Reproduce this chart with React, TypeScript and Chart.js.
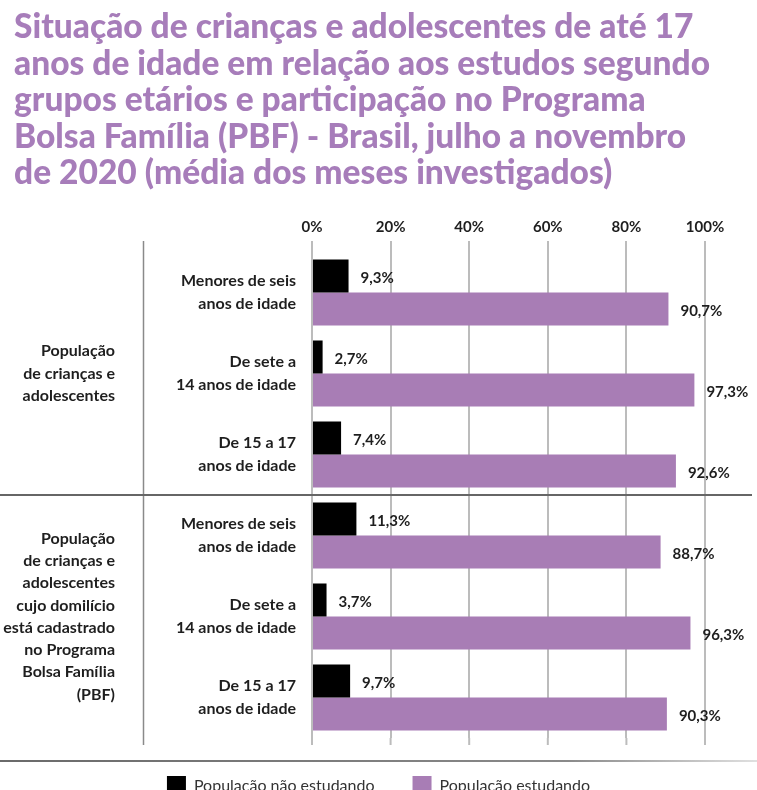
import React, { useEffect, useRef } from "react";
import { Chart, registerables } from "chart.js";

Chart.register(...registerables);

const titleLines = [
  "Situação de crianças e adolescentes de até 17",
  "anos de idade em relação aos estudos segundo",
  "grupos etários e participação no Programa",
  "Bolsa Família (PBF) - Brasil, julho a novembro",
  "de 2020 (média dos meses investigados)",
];

const categories = [
  ["Menores de seis", "anos de idade"],
  ["De sete a", "14 anos de idade"],
  ["De 15 a 17", "anos de idade"],
  ["Menores de seis", "anos de idade"],
  ["De sete a", "14 anos de idade"],
  ["De 15 a 17", "anos de idade"],
];

const groupLabels = [
  ["População", "de crianças e", "adolescentes"],
  [
    "População",
    "de crianças e",
    "adolescentes",
    "cujo domilício",
    "está cadastrado",
    "no Programa",
    "Bolsa Família",
    "(PBF)",
  ],
];
const groupMembers = [
  [0, 1, 2],
  [3, 4, 5],
];

const seriesNames = ["População não estudando", "População estudando"];
const notStudying = [9.3, 2.7, 7.4, 11.3, 3.7, 9.7];
const studying = [90.7, 97.3, 92.6, 88.7, 96.3, 90.3];
const xTickStep = 20;
const xMin = 0;
const xMax = 100;

const PURPLE = "#a87db5";
const TITLE_PURPLE = "#a77dba";
const TEXT = "#1e1e1e";
const GRID = "#bcbcbc";
const FONT = 'Lato, "Open Sans", sans-serif';

const fmt = (v: number) => v.toFixed(1).replace(".", ",") + "%";

const decorPlugin = {
  id: "decor",
  afterDraw(chart: any) {
    const { ctx, chartArea, scales } = chart;
    const x = scales.x;
    const y = scales.y;
    ctx.save();

    // extend grid lines slightly below the plot area
    ctx.strokeStyle = GRID;
    ctx.lineWidth = 2;
    x.ticks.forEach((t: any) => {
      const px = x.getPixelForValue(t.value);
      ctx.beginPath();
      ctx.moveTo(px, chartArea.bottom);
      ctx.lineTo(px, chartArea.bottom + 7);
      ctx.stroke();
    });

    // vertical separator between group labels and category labels
    ctx.strokeStyle = "#8a8a8a";
    ctx.lineWidth = 1.5;
    ctx.beginPath();
    ctx.moveTo(143.5, chartArea.top - 11);
    ctx.lineTo(143.5, chartArea.bottom + 7);
    ctx.stroke();

    // horizontal separator between groups
    const ySep = (y.getPixelForValue(2) + y.getPixelForValue(3)) / 2;
    ctx.strokeStyle = "#666";
    ctx.lineWidth = 2;
    ctx.beginPath();
    ctx.moveTo(0, ySep);
    ctx.lineTo(752, ySep);
    ctx.stroke();

    // bottom line above legend
    const grad = ctx.createLinearGradient(0, 0, 757, 0);
    grad.addColorStop(0, "#6a6a6a");
    grad.addColorStop(0.75, "#8a8a8a");
    grad.addColorStop(1, "#e0e0e0");
    ctx.strokeStyle = grad;
    ctx.lineWidth = 2;
    ctx.beginPath();
    ctx.moveTo(0, chartArea.bottom + 23);
    ctx.lineTo(757, chartArea.bottom + 23);
    ctx.stroke();

    // group labels
    ctx.fillStyle = TEXT;
    ctx.font = `bold 16px ${FONT}`;
    ctx.textAlign = "right";
    ctx.textBaseline = "middle";
    groupLabels.forEach((lines, gi) => {
      const idx = groupMembers[gi];
      const c = (y.getPixelForValue(idx[0]) + y.getPixelForValue(idx[idx.length - 1])) / 2;
      const lh = 22.3;
      lines.forEach((ln, i) => {
        ctx.fillText(ln, 115, c + (i - (lines.length - 1) / 2) * lh);
      });
    });

    // value labels
    ctx.font = `bold 15px ${FONT}`;
    ctx.textAlign = "left";
    chart.data.datasets.forEach((ds: any, di: number) => {
      const meta = chart.getDatasetMeta(di);
      meta.data.forEach((bar: any, i: number) => {
        ctx.fillText(fmt(ds.data[i]), bar.x + 12, bar.y + 2);
      });
    });

    ctx.restore();
  },
};

export default function App() {
  const ref = useRef<HTMLCanvasElement | null>(null);

  useEffect(() => {
    if (!ref.current) return;
    const chart = new Chart(ref.current, {
      type: "bar",
      data: {
        labels: categories as any,
        datasets: [
          {
            label: seriesNames[0],
            data: notStudying,
            backgroundColor: "#000000",
            borderWidth: 0,
            xAxisID: "x",
            yAxisID: "y",
          },
          {
            label: seriesNames[1],
            data: studying,
            backgroundColor: PURPLE,
            borderWidth: 0,
            xAxisID: "x",
            yAxisID: "y",
          },
        ],
      },
      options: {
        indexAxis: "y",
        responsive: false,
        animation: false,
        devicePixelRatio: 1,
        layout: { padding: { top: 200, left: 0, right: 0, bottom: 0 } },
        datasets: { bar: { categoryPercentage: 0.815, barPercentage: 1 } },
        scales: {
          x: {
            position: "top",
            min: xMin,
            max: xMax,
            ticks: {
              stepSize: xTickStep,
              callback: (v: any) => v + "%",
              font: { family: FONT, size: 15, weight: "bold" },
              color: TEXT,
              padding: 5,
            },
            grid: {
              color: GRID,
              lineWidth: 2,
              tickLength: 11,
              drawTicks: true,
              tickColor: GRID,
            },
            border: { display: false },
            afterFit: (s: any) => {
              s.height = 52;
            },
          },
          y: {
            ticks: {
              font: { family: FONT, size: 16, weight: "bold", lineHeight: 1.4 },
              color: TEXT,
              padding: 16,
              autoSkip: false,
            },
            grid: { display: false, drawTicks: false },
            border: { display: false },
            afterFit: (s: any) => {
              s.width = 312;
            },
          },
          yr: {
            type: "linear",
            position: "right",
            display: true,
            ticks: { display: false },
            grid: { display: false, drawTicks: false },
            border: { display: false },
            afterFit: (s: any) => {
              s.width = 52;
            },
          },
        } as any,
        plugins: {
          legend: {
            position: "bottom",
            labels: {
              boxWidth: 19,
              boxHeight: 19,
              padding: 38,
              font: { family: FONT, size: 16 },
              color: "#333",
            },
          },
          tooltip: { enabled: false },
          title: { display: false },
        },
      } as any,
      plugins: [decorPlugin],
    });
    return () => chart.destroy();
  }, []);

  return (
    <div
      style={{
        position: "absolute",
        left: 0,
        top: 0,
        width: 757,
        height: 790,
        overflow: "hidden",
        background: "#fff",
      }}
    >
      <canvas ref={ref} width={757} height={805} style={{ position: "absolute", left: 0, top: 0 }} />
      <div
        style={{
          position: "absolute",
          left: 14,
          top: 7,
          fontFamily: "Lato, 'Open Sans', sans-serif",
          fontWeight: 900,
          fontSize: 33.5,
          lineHeight: "36.5px",
          color: TITLE_PURPLE,
          whiteSpace: "nowrap",
        }}
      >
        {titleLines.map((l, i) => (
          <div key={i}>{l}</div>
        ))}
      </div>
    </div>
  );
}
